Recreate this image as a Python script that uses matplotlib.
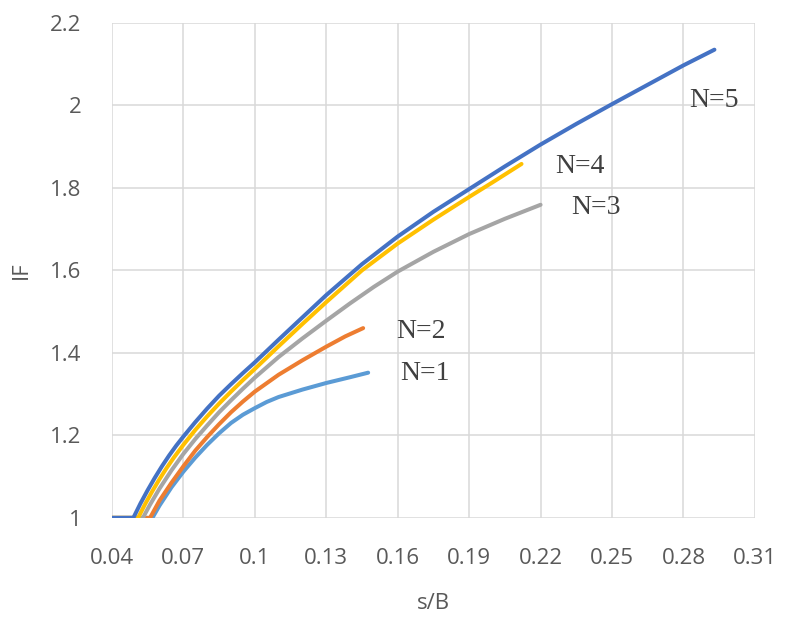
import matplotlib
matplotlib.use('Agg')
import matplotlib.pyplot as plt
from matplotlib.ticker import FuncFormatter

# settlement ratio s/B and improvement factor IF for each number of layers N
x_n1 = [0.04, 0.057, 0.06, 0.065, 0.07, 0.075, 0.08, 0.085, 0.09, 0.095, 0.10,
        0.105, 0.11, 0.12, 0.13, 0.14, 0.1476]
if_n1 = [1.0, 1.0, 1.03, 1.074, 1.112, 1.146, 1.177, 1.205, 1.23, 1.25, 1.266,
         1.281, 1.293, 1.311, 1.327, 1.341, 1.352]

x_n2 = [0.04, 0.056, 0.06, 0.065, 0.07, 0.075, 0.08, 0.085, 0.09, 0.095, 0.10,
        0.11, 0.12, 0.13, 0.138, 0.1455]
if_n2 = [1.0, 1.0, 1.042, 1.085, 1.125, 1.163, 1.196, 1.227, 1.256, 1.282, 1.306,
         1.347, 1.382, 1.415, 1.44, 1.46]

x_n3 = [0.04, 0.053, 0.056, 0.06, 0.065, 0.07, 0.075, 0.08, 0.085, 0.09, 0.095,
        0.10, 0.11, 0.12, 0.13, 0.14, 0.15, 0.16, 0.175, 0.19, 0.205, 0.22]
if_n3 = [1.0, 1.0, 1.032, 1.071, 1.115, 1.155, 1.191, 1.224, 1.256, 1.285, 1.313,
         1.34, 1.39, 1.435, 1.478, 1.52, 1.56, 1.597, 1.645, 1.688, 1.725, 1.759]

x_n4 = [0.04, 0.051, 0.054, 0.057, 0.06, 0.063, 0.066, 0.07, 0.075, 0.08, 0.085,
        0.09, 0.095, 0.10, 0.11, 0.12, 0.13, 0.145, 0.16, 0.175, 0.19, 0.20, 0.212]
if_n4 = [1.0, 1.0, 1.034, 1.065, 1.094, 1.121, 1.146, 1.177, 1.213, 1.246, 1.277,
         1.306, 1.334, 1.361, 1.416, 1.47, 1.523, 1.6, 1.665, 1.723, 1.778, 1.814, 1.858]

x_n5 = [0.04, 0.049, 0.052, 0.055, 0.058, 0.061, 0.064, 0.067, 0.07, 0.075, 0.08,
        0.085, 0.09, 0.095, 0.10, 0.11, 0.12, 0.13, 0.145, 0.16, 0.175, 0.19, 0.205,
        0.22, 0.235, 0.25, 0.265, 0.28, 0.293]
if_n5 = [1.0, 1.0, 1.035, 1.067, 1.097, 1.125, 1.151, 1.175, 1.197, 1.232, 1.265,
         1.296, 1.324, 1.351, 1.377, 1.432, 1.486, 1.54, 1.615, 1.682, 1.742, 1.797, 1.852,
         1.905, 1.955, 2.003, 2.05, 2.097, 2.135]

x_ticks = [0.04, 0.07, 0.1, 0.13, 0.16, 0.19, 0.22, 0.25, 0.28, 0.31]
y_ticks = [1.0, 1.2, 1.4, 1.6, 1.8, 2.0, 2.2]

series = [
    ('N=1', x_n1, if_n1, '#5B9BD5', (0.1715, 1.349)),
    ('N=2', x_n2, if_n2, '#ED7D31', (0.1696, 1.453)),
    ('N=3', x_n3, if_n3, '#A5A5A5', (0.2434, 1.752)),
    ('N=4', x_n4, if_n4, '#FFC000', (0.2366, 1.851)),
    ('N=5', x_n5, if_n5, '#4472C4', (0.293, 2.013)),
]

fig = plt.figure(figsize=(7.88, 6.18), dpi=100)
ax = fig.add_axes([0.142, 0.162, 0.816, 0.801])

for name, xs, ys, color, label_pos in series:
    ax.plot(xs, ys, color=color, lw=2.9, solid_capstyle='round', solid_joinstyle='round')
    ax.text(label_pos[0], label_pos[1], name, ha='center', va='center',
            fontsize=20, family='Liberation Serif', color='#404040')

ax.set_xlim(0.04, 0.31)
ax.set_ylim(1.0, 2.2)
ax.set_xticks(x_ticks)
ax.set_yticks(y_ticks)
ax.xaxis.set_major_formatter(FuncFormatter(lambda v, p: f'{v:g}'))
ax.yaxis.set_major_formatter(FuncFormatter(lambda v, p: f'{v:g}'))

ax.grid(True, color='#D9D9D9', lw=1.1)
ax.set_axisbelow(True)
for s in ax.spines.values():
    s.set_visible(False)
ax.tick_params(length=0, labelsize=16, labelcolor='#595959', labelfontfamily='Open Sans')
ax.tick_params(axis='x', pad=22)
ax.tick_params(axis='y', pad=22)

ax.set_xlabel('s/B', fontsize=16, color='#595959', family='Open Sans')
ax.set_ylabel('IF', fontsize=16, color='#595959', family='Open Sans')
ax.xaxis.set_label_coords(0.5, -0.172)
ax.yaxis.set_label_coords(-0.14, 0.5)
ax.xaxis.label.set_va('center')
ax.yaxis.label.set_va('center')

fig.savefig('out.png', dpi=100, facecolor='white')
